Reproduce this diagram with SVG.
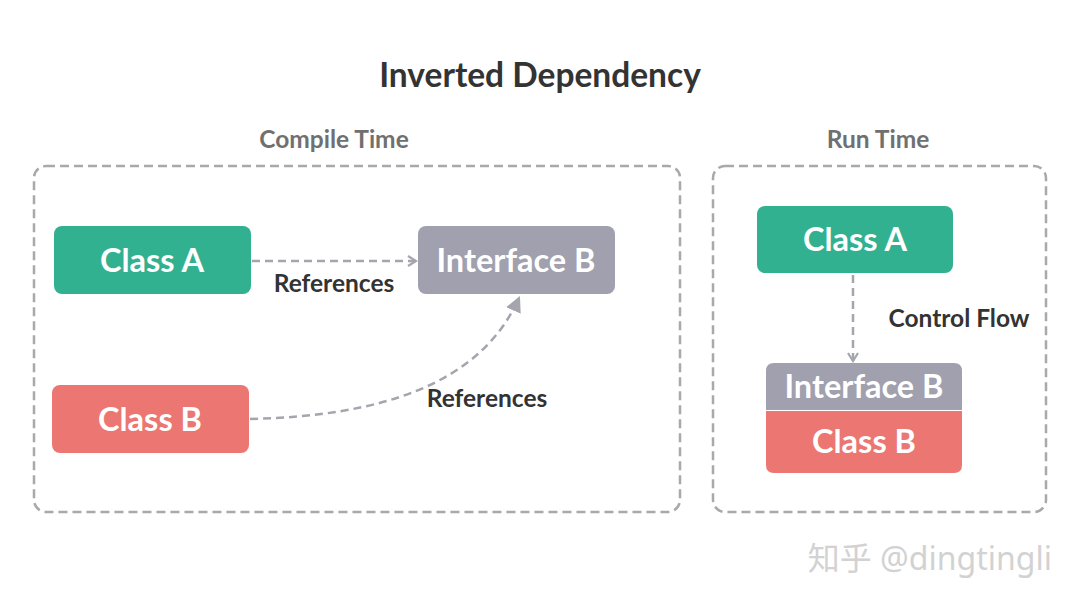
<svg xmlns="http://www.w3.org/2000/svg" width="1080" height="608" viewBox="0 0 1080 608">
<style>
.frame{fill:none;stroke:#a9a9a9;stroke-width:2.5;stroke-dasharray:9 5}
.conn{fill:none;stroke:#a5a5ad;stroke-width:2.5;stroke-dasharray:8 5}
.nt{font-family:Lato,"Open Sans",sans-serif;font-weight:bold;font-size:32.5px;fill:#fff;text-anchor:middle}
.lbl{font-family:Lato,"Open Sans",sans-serif;font-weight:bold;font-size:24.5px;fill:#333;text-anchor:middle}
.sec{font-family:Lato,"Open Sans",sans-serif;font-weight:bold;font-size:24.5px;fill:#707070;text-anchor:middle}
.teal{fill:#32b190}
.gray{fill:#a1a0ae}
.red{fill:#eb7672}
</style>
<defs>
<marker id="chev" viewBox="0 0 12 12" refX="10" refY="6" markerWidth="12" markerHeight="12" markerUnits="userSpaceOnUse" orient="auto">
<path d="M2,1 L10,6 L2,11" fill="none" stroke="#a5a5ad" stroke-width="2.2"/>
</marker>
<marker id="tri" viewBox="0 0 14 14" refX="12" refY="7" markerWidth="16" markerHeight="16" markerUnits="userSpaceOnUse" orient="auto">
<path d="M0,0 L14,7 L0,14 Z" fill="#a5a5ad"/>
</marker>
</defs>
<rect width="1080" height="608" fill="#fff"/>
<text x="540" y="87" font-family="Lato,'Open Sans',sans-serif" font-weight="bold" font-size="33.5" fill="#333" text-anchor="middle">Inverted Dependency</text>
<g id="compile-time">
<rect class="frame" x="34" y="166" width="646" height="346" rx="12"/>
<text class="sec" x="334" y="148">Compile Time</text>
</g>
<g id="run-time">
<rect class="frame" x="713" y="166" width="333" height="346" rx="12"/>
<text class="sec" x="878" y="148">Run Time</text>
</g>
<g id="connectors">
<line class="conn" x1="252" y1="261" x2="416" y2="261" marker-end="url(#chev)"/>
<path class="conn" d="M250,419 C380,416 480,385 519,298" marker-end="url(#tri)"/>
<line class="conn" x1="853" y1="275" x2="853" y2="361" marker-end="url(#chev)"/>
<text class="lbl" x="334" y="292">References</text>
<text class="lbl" x="487" y="407">References</text>
<text class="lbl" x="959" y="327">Control Flow</text>
</g>
<g id="ct-class-a">
<rect class="teal" x="54" y="226" width="197" height="68" rx="8"/>
<text class="nt" x="152" y="272">Class A</text>
</g>
<g id="ct-interface-b">
<rect class="gray" x="418" y="226" width="197" height="68" rx="8"/>
<text class="nt" x="516" y="272">Interface B</text>
</g>
<g id="ct-class-b">
<rect class="red" x="52" y="385" width="197" height="68" rx="8"/>
<text class="nt" x="150" y="431">Class B</text>
</g>
<g id="rt-class-a">
<rect class="teal" x="757" y="206" width="196" height="67" rx="8"/>
<text class="nt" x="855" y="251">Class A</text>
</g>
<g id="rt-interface-b">
<path class="gray" d="M766,410 V371 Q766,363 774,363 H954 Q962,363 962,371 V410 Z"/>
<text class="nt" x="864" y="398">Interface B</text>
</g>
<g id="rt-class-b">
<path class="red" d="M766,411 H962 V465 Q962,473 954,473 H774 Q766,473 766,465 Z"/>
<text class="nt" x="864" y="453">Class B</text>
</g>
<text x="1052" y="570" font-family="'Noto Sans','Noto Sans CJK SC',sans-serif" font-size="32" fill="#d2d2d2" text-anchor="end">知乎 @dingtingli</text>
</svg>
